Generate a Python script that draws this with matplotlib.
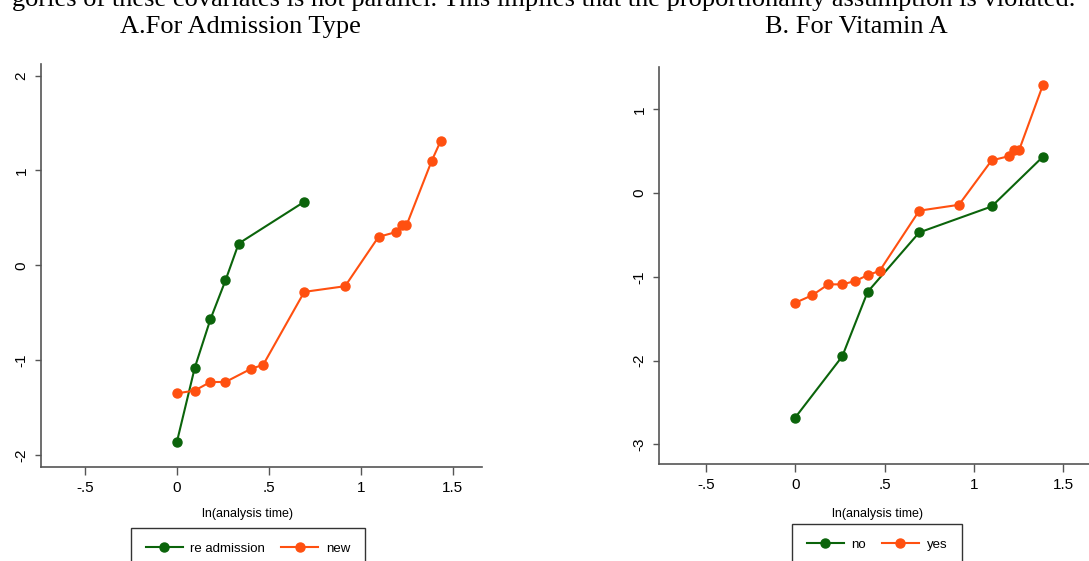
import matplotlib

matplotlib.use("Agg")
import matplotlib.pyplot as plt

# ---- data (ln(analysis time) vs -ln(-ln(S))) ----
adm_x_readm = [0.0, 0.097, 0.182, 0.264, 0.336, 0.693]
adm_y_readm = [-1.86, -1.08, -0.57, -0.16, 0.23, 0.67]
adm_x_new = [0.0, 0.097, 0.182, 0.264, 0.404, 0.469, 0.693, 0.915,
             1.097, 1.191, 1.224, 1.249, 1.386, 1.435]
adm_y_new = [-1.35, -1.32, -1.23, -1.23, -1.09, -1.05, -0.28, -0.22,
             0.30, 0.35, 0.42, 0.42, 1.10, 1.31]

vit_x_no = [0.0, 0.263, 0.405, 0.694, 1.099, 1.384]
vit_y_no = [-2.68, -1.95, -1.18, -0.47, -0.16, 0.43]
vit_x_yes = [0.0, 0.095, 0.185, 0.263, 0.336, 0.405, 0.472, 0.694,
             0.916, 1.099, 1.194, 1.226, 1.254, 1.386]
vit_y_yes = [-1.31, -1.22, -1.09, -1.09, -1.05, -0.98, -0.93, -0.21,
             -0.14, 0.39, 0.44, 0.52, 0.52, 1.29]

x_ticks = [-0.5, 0, 0.5, 1, 1.5]
x_ticklabels = ["-.5", "0", ".5", "1", "1.5"]
adm_y_ticks = [-2, -1, 0, 1, 2]
vit_y_ticks = [-3, -2, -1, 0, 1]

GREEN = "#0b640b"
ORANGE = "#ff5010"
SPINE = "#555555"
NARROW = ["Liberation Sans Narrow", "Liberation Sans", "DejaVu Sans"]
SANS = ["Liberation Sans", "DejaVu Sans"]
SERIF = ["Liberation Serif", "DejaVu Serif"]

fig = plt.figure(figsize=(10.89, 5.61), dpi=100)


def panel(rect, xs1, ys1, lab1, xs2, ys2, lab2, xlim, ylim, yticks,
          lab_xy, leg_x, leg_y):
    ax = fig.add_axes(rect)
    ax.plot(xs1, ys1, color=GREEN, marker="o", markersize=6.5, linewidth=1.5,
            label=lab1)
    ax.plot(xs2, ys2, color=ORANGE, marker="o", markersize=6.5, linewidth=1.5,
            label=lab2)
    ax.set_xlim(*xlim)
    ax.set_ylim(*ylim)
    ax.set_xticks(x_ticks)
    ax.set_xticklabels(x_ticklabels, family=NARROW, fontsize=11)
    ax.set_yticks(yticks)
    ax.set_yticklabels([str(v) for v in yticks], family=SANS, fontsize=11,
                       rotation=90, va="center")
    for side in ("top", "right"):
        ax.spines[side].set_visible(False)
    for side in ("left", "bottom"):
        ax.spines[side].set_color(SPINE)
        ax.spines[side].set_linewidth(1.2)
    ax.tick_params(axis="x", length=6, width=1, color=SPINE, pad=4)
    ax.tick_params(axis="y", length=4, width=1, color=SPINE, pad=5)
    ax.set_xlabel("ln(analysis time)", family=NARROW, fontsize=9)
    ax.xaxis.set_label_coords(*lab_xy)
    # Stata puts the legend under the plot; the page crop cuts its bottom off
    leg = fig.legend(handles=ax.get_lines(), loc="upper center",
                     bbox_to_anchor=(leg_x, leg_y), ncol=2, frameon=True,
                     fancybox=False, edgecolor="black", handlelength=2.8,
                     handletextpad=0.6, columnspacing=1.2, borderpad=1.1,
                     borderaxespad=0, prop={"family": NARROW, "size": 9.5})
    leg.get_frame().set_linewidth(1.0)
    return ax


panel([0.0376, 0.1676, 0.405, 0.7184],
      adm_x_readm, adm_y_readm, "re admission",
      adm_x_new, adm_y_new, "new",
      (-0.74, 1.66), (-2.126, 2.123), adm_y_ticks,
      (0.469, -0.102), 248 / 1089, 1 - 528 / 561)

panel([0.6054, 0.1729, 0.3946, 0.7082],
      vit_x_no, vit_y_no, "no",
      vit_x_yes, vit_y_yes, "yes",
      (-0.761, 1.644), (-3.235, 1.509), vit_y_ticks,
      (0.507, -0.111), 877 / 1089, 1 - 524 / 561)

fig.text(1075 / 1089, 1 - 6 / 561,
         "gories of these covariates is not parallel. This implies that the "
         "proportionality assumption is violated.",
         ha="right", va="baseline", family=SERIF, fontsize=19)
fig.text(240 / 1089, 1 - 33 / 561, "A.For Admission Type",
         ha="center", va="baseline", family=SERIF, fontsize=19)
fig.text(856 / 1089, 1 - 33 / 561, "B. For Vitamin A",
         ha="center", va="baseline", family=SERIF, fontsize=19)

fig.savefig("out.png", dpi=100)
